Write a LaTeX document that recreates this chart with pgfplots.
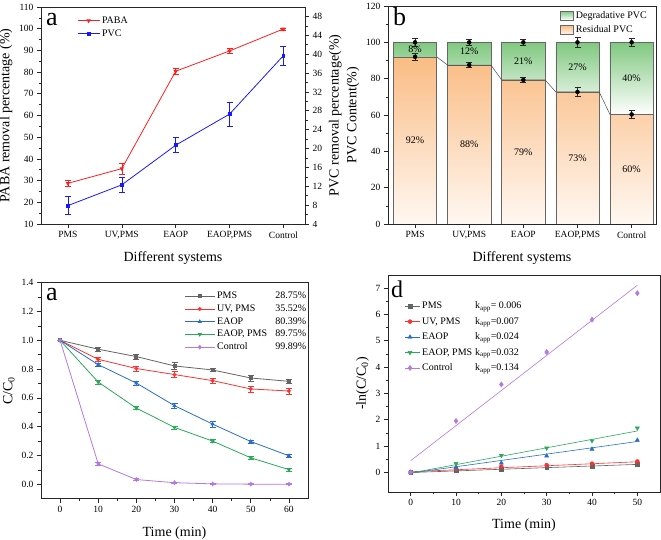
\documentclass[border=0pt]{standalone}
\usepackage{pgfplots}
\pgfplotsset{compat=1.18}
\usepackage{fontspec}
\setmainfont{Liberation Serif}
\definecolor{cgray}{RGB}{100,100,100}
\definecolor{cred}{RGB}{250,50,50}
\definecolor{cblue}{RGB}{40,110,200}
\definecolor{cgreen}{RGB}{40,170,90}
\definecolor{cpurple}{RGB}{180,120,230}
\definecolor{pred}{RGB}{255,30,30}
\definecolor{pblue}{RGB}{25,25,255}
\definecolor{borange}{RGB}{250,188,132}
\definecolor{borangelight}{RGB}{255,248,242}
\definecolor{bgreen}{RGB}{128,200,128}
\pgfplotsset{
  base/.style={
    scale only axis,
    anchor=south west,
    tick align=outside,
    xtick pos=left, ytick pos=left,
    major tick length=4pt, minor tick length=2.5pt,
    axis line style={line width=0.7pt, black!85},
    every tick/.append style={black!85, line width=0.6pt},
    tick label style={font=\fontsize{9.5}{11}\selectfont},
    label style={font=\fontsize{14}{16}\selectfont},
    /pgf/number format/assume math mode=true,
    legend style={draw=none, fill=none, font=\fontsize{10}{12}\selectfont},
    legend cell align=left,
  },
  barleg/.style={legend image code/.code={\draw[##1] (0pt,-4.5pt) rectangle (13pt,4.5pt);}},
  ebar/.style={error bars/.cd, y dir=both, y explicit,
    error bar style={line width=0.6pt},
    error mark options={rotate=90, mark size=3pt, line width=0.6pt}},
}
\begin{document}
\begin{tikzpicture}
\useasboundingbox (0pt,0pt) rectangle (661pt,540pt);
% ---------------- panel a (top-left) ----------------
\begin{axis}[base, at={(41pt,316pt)}, width=264pt, height=217pt,
  xmin=-0.5, xmax=4.4, ymin=10, ymax=110,
  ytick={10,20,...,110}, minor y tick num=1,
  xtick={0,1,2,3,4}, xticklabels={PMS,{UV,PMS},EAOP,{EAOP,PMS},Control},
  xlabel={Different systems}, xlabel style={yshift=-5pt},
  ylabel={PABA removal percentage (\%)}]
\addplot[pred, line width=0.8pt, mark=triangle*, mark options={rotate=180, scale=0.9, solid}, ebar]
  coordinates {(0,28.75)+-(0,1.5) (1,35.52)+-(0,2.5) (2,80.39)+-(0,1.2) (3,89.75)+-(0,1.2) (4,99.89)+-(0,0.5)};
\end{axis}
\begin{axis}[base, at={(41pt,316pt)}, width=264pt, height=217pt,
  xmin=-0.5, xmax=4.4, ymin=4, ymax=50,
  axis y line*=right, axis x line=none,
  ytick pos=right, yticklabel pos=right,
  ytick={4,8,...,48}, minor y tick num=1,
  ylabel={PVC removal percentage(\%)},
  legend style={at={(0.125,0.975)}, anchor=north west, row sep=1pt},
  legend image code/.code={\draw[mark repeat=2, mark phase=2, #1] plot coordinates {(0pt,0pt)(11pt,0pt)(22pt,0pt)};}]
\addlegendimage{pred, line width=0.8pt, mark=triangle*, mark options={rotate=180, scale=0.9}}
\addlegendentry{PABA}
\addplot[pblue, line width=0.8pt, mark=square*, mark options={scale=0.7}, ebar]
  coordinates {(0,7.9)+-(0,1.9) (1,12.3)+-(0,1.5) (2,20.7)+-(0,1.6) (3,27.3)+-(0,2.5) (4,39.7)+-(0,2.0)};
\addlegendentry{PVC}
\end{axis}
% ---------------- panel b (top-right) ----------------
\begin{axis}[base, at={(388pt,316pt)}, width=268pt, height=218pt,
  ybar stacked, bar width=0.8,
  xmin=-0.5, xmax=4.45, ymin=0, ymax=120,
  ytick={0,20,...,120}, minor y tick num=1,
  xtick={0,1,2,3,4}, xticklabels={PMS,{UV,PMS},EAOP,{EAOP,PMS},Control},
  xlabel={Different systems}, xlabel style={yshift=-5pt},
  ylabel={PVC Content(\%)},
  legend style={at={(0.985,0.995)}, anchor=north east, row sep=2pt},
  reverse legend]
\addplot[barleg, draw=black!60, line width=0.5pt, top color=borange, bottom color=borangelight]
  coordinates {(0,92) (1,87.5) (2,79.3) (3,72.7) (4,60.3)};
\addlegendentry{Residual PVC}
\addplot[barleg, draw=black!60, line width=0.5pt, top color=bgreen, bottom color=white]
  coordinates {(0,8) (1,12.5) (2,20.7) (3,27.3) (4,39.7)};
\addlegendentry{Degradative PVC}
\end{axis}
\begin{axis}[scale only axis, anchor=south west, at={(388pt,316pt)}, width=268pt, height=218pt,
  xmin=-0.5, xmax=4.45, ymin=0, ymax=120, axis lines=none, clip=false]
\addplot[black!70, line width=0.5pt]
  coordinates {(0.4,92) (0.6,87.5) (1.4,87.5) (1.6,79.3) (2.4,79.3) (2.6,72.7) (3.4,72.7) (3.6,60.3)};
\addplot[only marks, mark=none, error bars/.cd, y dir=both, y explicit,
  error bar style={black!85, line width=0.7pt},
  error mark options={rotate=90, mark size=3pt, black!85, line width=0.7pt}]
  coordinates {(0,92)+-(0,2) (1,87.5)+-(0,1.5) (2,79.3)+-(0,1.5) (3,72.7)+-(0,2.5) (4,60.3)+-(0,2)
               (0,100)+-(0,2) (1,100)+-(0,1.5) (2,100)+-(0,1.5) (3,100)+-(0,2.5) (4,100)+-(0,2)};
\begin{scope}[every node/.style={font=\fontsize{10}{12}\selectfont}]
\node at (axis cs:0,96) {8\%};
\node at (axis cs:1,95) {12\%};
\node at (axis cs:2,89.7) {21\%};
\node at (axis cs:3,86.5) {27\%};
\node at (axis cs:4,80) {40\%};
\node at (axis cs:0,46) {92\%};
\node at (axis cs:1,44) {88\%};
\node at (axis cs:2,39.7) {79\%};
\node at (axis cs:3,36.4) {73\%};
\node at (axis cs:4,30) {60\%};
\end{scope}
\end{axis}
% ---------------- panel c (bottom-left) ----------------
\begin{axis}[base, at={(41pt,41.3pt)}, width=267pt, height=216pt,
  xmin=-5, xmax=65, ymin=-0.1, ymax=1.4,
  xtick={0,10,...,60}, minor x tick num=1,
  ytick={0,0.2,0.4,0.6,0.8,1.0,1.2,1.4}, minor y tick num=1,
  yticklabel style={/pgf/number format/.cd, fixed, fixed zerofill, precision=1},
  xlabel={Time (min)}, xlabel style={yshift=-7pt},
  ylabel={C/C\textsubscript{0}},
  legend style={at={(0.525,0.975)}, anchor=north west, row sep=0.5pt},
  legend image code/.code={\draw[mark repeat=2, mark phase=2, #1] plot coordinates {(0pt,0pt)(15pt,0pt)(30pt,0pt)};}]
\addplot[cgray, line width=0.8pt, mark=square*, mark options={scale=0.75, solid}, ebar]
  coordinates {(0,1)+-(0,0) (10,0.938)+-(0,0.015) (20,0.887)+-(0,0.018) (30,0.822)+-(0,0.025) (40,0.794)+-(0,0.012) (50,0.738)+-(0,0.02) (60,0.715)+-(0,0.012)};
\addlegendentry{\makebox[89pt]{PMS\hfill 28.75\%}}
\addplot[cred, line width=0.8pt, mark=*, mark options={scale=0.75, solid}, ebar]
  coordinates {(0,1)+-(0,0) (10,0.868)+-(0,0.015) (20,0.804)+-(0,0.018) (30,0.762)+-(0,0.02) (40,0.72)+-(0,0.018) (50,0.662)+-(0,0.02) (60,0.648)+-(0,0.02)};
\addlegendentry{\makebox[89pt]{UV, PMS\hfill 35.52\%}}
\addplot[cblue, line width=0.8pt, mark=triangle*, mark options={scale=0.85, solid}, ebar]
  coordinates {(0,1)+-(0,0) (10,0.831)+-(0,0.012) (20,0.703)+-(0,0.015) (30,0.546)+-(0,0.015) (40,0.418)+-(0,0.02) (50,0.297)+-(0,0.012) (60,0.198)+-(0,0.012)};
\addlegendentry{\makebox[89pt]{EAOP\hfill 80.39\%}}
\addplot[cgreen, line width=0.8pt, mark=triangle*, mark options={rotate=180, scale=0.85, solid}, ebar]
  coordinates {(0,1)+-(0,0) (10,0.71)+-(0,0.015) (20,0.529)+-(0,0.01) (30,0.395)+-(0,0.01) (40,0.30)+-(0,0.01) (50,0.184)+-(0,0.012) (60,0.102)+-(0,0.012)};
\addlegendentry{\makebox[89pt]{EAOP, PMS\hfill 89.75\%}}
\addplot[cpurple, line width=0.8pt, mark=diamond*, mark options={scale=0.9, solid}, ebar]
  coordinates {(0,1)+-(0,0) (10,0.142)+-(0,0.008) (20,0.033)+-(0,0.006) (30,0.011)+-(0,0.005) (40,0.003)+-(0,0.004) (50,0.001)+-(0,0.004) (60,0.001)+-(0,0.004)};
\addlegendentry{\makebox[89pt]{Control\hfill 99.89\%}}
\end{axis}
% ---------------- panel d (bottom-right) ----------------
\begin{axis}[base, at={(388pt,48pt)}, width=272pt, height=217pt,
  xmin=-5, xmax=55, ymin=-0.75, ymax=7.5,
  xtick={0,10,...,50}, minor x tick num=1,
  ytick={0,1,...,7}, minor y tick num=1,
  xlabel={Time (min)}, xlabel style={yshift=-6pt},
  ylabel={-ln(C/C\textsubscript{0})},
  legend style={at={(0.05,0.895)}, anchor=north west, row sep=3pt},
  legend image code/.code={\path (0pt,0pt) -- (15pt,0pt); \draw[#1] plot coordinates {(5pt,0pt)};}]
\addplot[only marks, cgray, mark=square*, mark size=1.8pt]
  coordinates {(0,0) (10,0.065) (20,0.12) (30,0.196) (40,0.231) (50,0.304)};
\addlegendentry{\makebox[53pt][l]{PMS}k\textsubscript{app}= 0.006}
\addplot[only marks, cred, mark=*, mark size=2pt]
  coordinates {(0,0) (10,0.142) (20,0.218) (30,0.272) (40,0.329) (50,0.412)};
\addlegendentry{\makebox[53pt][l]{UV, PMS}k\textsubscript{app}=0.007}
\addplot[only marks, cblue, mark=triangle*, mark size=2.4pt]
  coordinates {(0,0) (10,0.185) (20,0.352) (30,0.62) (40,0.88) (50,1.22)};
\addlegendentry{\makebox[53pt][l]{EAOP}k\textsubscript{app}=0.024}
\addplot[only marks, cgreen, mark=triangle*, mark size=2.4pt, mark options={rotate=180}]
  coordinates {(0,0) (10,0.33) (20,0.64) (30,0.92) (40,1.2) (50,1.68)};
\addlegendentry{\makebox[53pt][l]{EAOP, PMS}k\textsubscript{app}=0.032}
\addplot[only marks, cpurple, mark=diamond*, mark size=2.6pt]
  coordinates {(0,0) (10,1.95) (20,3.34) (30,4.57) (40,5.8) (50,6.81)};
\addlegendentry{\makebox[53pt][l]{Control}k\textsubscript{app}=0.134}
\addplot[cgray, line width=0.6pt, forget plot] coordinates {(0,-0.01) (50,0.30)};
\addplot[cred, line width=0.6pt, forget plot] coordinates {(0,0.02) (50,0.40)};
\addplot[cblue, line width=0.6pt, forget plot] coordinates {(0,-0.03) (50,1.17)};
\addplot[cgreen, line width=0.6pt, forget plot] coordinates {(0,-0.03) (50,1.57)};
\addplot[cpurple, line width=0.6pt, forget plot] coordinates {(0,0.44) (50,7.11)};
\end{axis}
% panel letters
\node[anchor=base west, inner sep=0pt, font=\fontsize{26}{26}\selectfont] at (46pt,514pt) {a};
\node[anchor=base west, inner sep=0pt, font=\fontsize{26}{26}\selectfont] at (393pt,514pt) {b};
\node[anchor=base west, inner sep=0pt, font=\fontsize{26}{26}\selectfont] at (46pt,239.5pt) {a};
\node[anchor=base west, inner sep=0pt, font=\fontsize{24}{24}\selectfont] at (391pt,242pt) {d};
\end{tikzpicture}
\end{document}
